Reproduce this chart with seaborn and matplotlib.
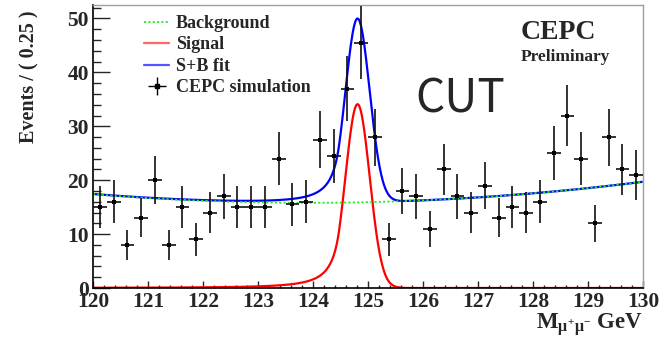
import numpy as np
import pandas as pd
import matplotlib
matplotlib.use("Agg")
import matplotlib.pyplot as plt
from matplotlib.ticker import MultipleLocator
from matplotlib.lines import Line2D
import seaborn as sns

# ----------------------- Data -----------------------

# 40 bins of 0.25 GeV between 120 and 130 GeV
mass_range = (120.0, 130.0)
bin_width = 0.25
events = [15, 16, 8, 13, 20, 8, 15, 9, 14, 17,
          15, 15, 15, 24, 15.5, 16, 27.5, 24.5, 37, 45.5,
          28, 9, 18, 17, 11, 22, 17, 14, 19, 13,
          15, 14, 16, 25, 32, 24, 12, 28, 22, 21]

# fitted background (parabola)
bkg_min = 15.8
bkg_x0 = 123.9
bkg_curv = 0.105

# fitted signal (Crystal Ball)
sig_peak = 34.1
sig_mean = 124.81
sig_sigma = 0.22
sig_alpha = 1.5
sig_n = 2.0

legend_labels = ["Background", "Signal", "S+B fit", "CEPC simulation"]

# ----------------------- Fit model -----------------------

def background(m):
    return bkg_min + bkg_curv * (m - bkg_x0) ** 2

def crystal_ball(m):
    t = (m - sig_mean) / sig_sigma
    a = (sig_n / sig_alpha) ** sig_n * np.exp(-0.5 * sig_alpha ** 2)
    b = sig_n / sig_alpha - sig_alpha
    core = np.exp(-0.5 * t ** 2)
    tail = a * np.abs(b - t) ** (-sig_n)
    return sig_peak * np.where(t > -sig_alpha, core, tail)

edges = np.linspace(mass_range[0], mass_range[1], len(events) + 1)
data = pd.DataFrame({"mass": 0.5 * (edges[:-1] + edges[1:]), "events": events})
data["err"] = np.sqrt(data["events"])

curve = pd.DataFrame({"mass": np.linspace(mass_range[0], mass_range[1], 1001)})
curve["bkg"] = background(curve["mass"])
curve["sig"] = crystal_ball(curve["mass"])
curve["total"] = curve["bkg"] + curve["sig"]

# ----------------------- Plot -----------------------

sns.set_theme(style="ticks")
plt.rcParams["font.family"] = ["Liberation Serif", "DejaVu Serif"]
plt.rcParams["font.weight"] = "bold"
plt.rcParams["axes.labelweight"] = "bold"
plt.rcParams["mathtext.fontset"] = "custom"
plt.rcParams["mathtext.rm"] = "Liberation Serif:bold"
plt.rcParams["mathtext.it"] = "Liberation Serif:bold"
plt.rcParams["mathtext.bf"] = "Liberation Serif:bold"

fig = plt.figure(figsize=(6.66, 3.47), dpi=100)
ax = fig.add_axes([93 / 666, 1 - 288 / 347, 550 / 666, 283 / 347])

sns.lineplot(data=curve, x="mass", y="sig", ax=ax, color="#ff0000", lw=1.6)
sns.lineplot(data=curve, x="mass", y="total", ax=ax, color="#0000ff", lw=1.6)
sns.lineplot(data=curve, x="mass", y="bkg", ax=ax, color="#22ee22", lw=1.3,
             linestyle=(0, (1.2, 1.2)))

ax.errorbar(data["mass"], data["events"], yerr=data["err"], xerr=bin_width / 2,
            fmt="none", ecolor="#111111", elinewidth=1.2, zorder=4)
sns.scatterplot(data=data, x="mass", y="events", ax=ax, color="black",
                marker="s", s=12, linewidth=0, zorder=5)

ax.set_xlim(*mass_range)
ax.set_ylim(0, 52.5)
ax.xaxis.set_major_locator(MultipleLocator(1))
ax.xaxis.set_minor_locator(MultipleLocator(0.2))
ax.yaxis.set_major_locator(MultipleLocator(10))
ax.yaxis.set_minor_locator(MultipleLocator(2))
ax.tick_params(axis="x", which="major", direction="in", length=5, width=1,
               labelsize=15.5, pad=3, top=False)
ax.tick_params(axis="x", which="minor", direction="in", length=2.5, width=1, top=False)
ax.tick_params(axis="y", which="major", direction="in", length=12, width=1,
               labelsize=15.5, pad=3, right=False)
ax.tick_params(axis="y", which="minor", direction="in", length=6, width=1, right=False)

for side in ["left", "bottom"]:
    ax.spines[side].set_color("black")
    ax.spines[side].set_linewidth(1.2)
for side in ["top", "right"]:
    ax.spines[side].set_color("#a0a0a0")
    ax.spines[side].set_linewidth(1.0)

ax.set_xlabel(r"$M_{\mu^{+}\mu^{-}}$ GeV", fontsize=16.5, loc="right", labelpad=-1)
ax.set_ylabel("Events / ( 0.25 )", fontsize=14.5, loc="top")
ax.yaxis.set_label_coords(-0.098, 0.982)

handles = [
    Line2D([], [], color="#22ee22", lw=1.3, linestyle=(0, (1.2, 1.2))),
    Line2D([], [], color="#ff6666", lw=1.6),
    Line2D([], [], color="#5555ff", lw=1.6),
    ax.errorbar([], [], yerr=[], xerr=[], fmt="s", color="black", ms=3.5,
                elinewidth=1.0),
]
ax.legend(handles, legend_labels, loc="upper left", bbox_to_anchor=(0.075, 1.0),
          frameon=False, fontsize=13, handlelength=1.4, handletextpad=0.35,
          labelspacing=0.25, borderaxespad=0.15)

fig.text(521 / 666, 1 - 39 / 347, "CEPC", fontsize=20, fontweight="bold",
         ha="left", va="baseline")
fig.text(521 / 666, 1 - 61 / 347, "Preliminary", fontsize=12.5, fontweight="bold",
         ha="left", va="baseline")
fig.text(460 / 666, 1 - 113 / 347, "CUT", fontsize=33, fontweight="normal",
         family=["Noto Sans CJK SC", "DejaVu Sans"], ha="center", va="baseline")

fig.savefig("out.png", dpi=100)
